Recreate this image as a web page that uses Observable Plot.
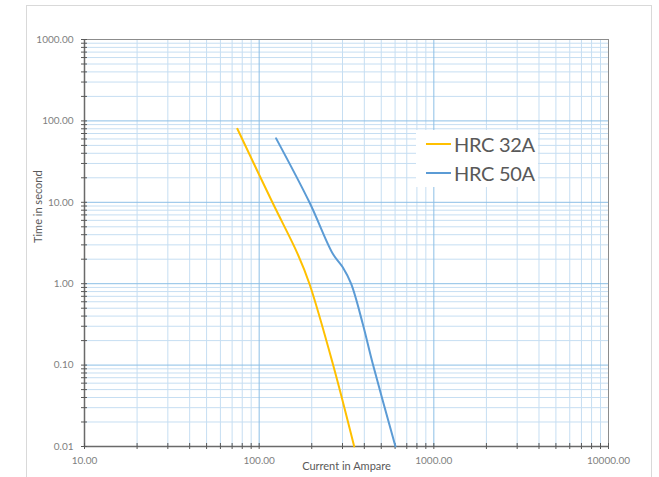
<!DOCTYPE html>
<html>
<head>
<meta charset="utf-8">
<script src="https://cdn.jsdelivr.net/npm/d3@7"></script>
<script src="https://cdn.jsdelivr.net/npm/@observablehq/plot@0.6"></script>
<style>
  html, body { margin: 0; padding: 0; background: #fff; }
  #wrap { position: relative; width: 659px; height: 477px; overflow: hidden; font-family: Lato, "Open Sans", sans-serif; }
  #border { position: absolute; left: 26px; top: 5px; width: 626px; height: 490px; border: 1px solid #d9d9d9; box-sizing: border-box; }
  #chart { position: absolute; left: 0; top: 0; }
  #legend { position: absolute; left: 416px; top: 130px; width: 122px; height: 57px; background: #fff; }
  .item { position: absolute; left: 10px; display: flex; align-items: center; height: 24px; }
  .item .sw { width: 25px; height: 2px; margin-right: 3px; }
  .item span { font-size: 20px; color: #595959; letter-spacing: -0.3px; }
</style>
</head>
<body>
<div id="wrap">
  <div id="border"></div>
  <div id="chart"></div>
  <div id="legend"></div>
</div>
<script>
// ---- data ----
const seriesNames = ["HRC 32A", "HRC 50A"];
const seriesColors = ["#ffc000", "#5b9bd5"];

const hrc32Current = [75, 119, 166, 194, 264, 350];
const hrc32Time    = [80, 10, 2.33, 1.0, 0.104, 0.01];

const hrc50Current = [125, 194, 264, 301, 336, 392, 447, 603];
const hrc50Time    = [61, 10, 2.33, 1.59, 1.0, 0.32, 0.104, 0.01];

const xDecades = [10, 100, 1000, 10000];
const yDecades = [0.01, 0.1, 1, 10, 100, 1000];
const minorMultipliers = [2, 3, 4, 5, 6, 7, 8, 9];
const xTickLabels = ["10.00", "100.00", "1000.00", "10000.00"];
const yTickLabels = ["0.01", "0.10", "1.00", "10.00", "100.00", "1000.00"];

// ---- build ----
const minorOf = decs => decs.slice(0, -1).flatMap(d => minorMultipliers.map(m => +(m * d).toPrecision(6)));
const xMinor = minorOf(xDecades);
const yMinor = minorOf(yDecades);

const rows = [
  ...hrc32Current.map((c, i) => ({series: seriesNames[0], current: c, time: hrc32Time[i]})),
  ...hrc50Current.map((c, i) => ({series: seriesNames[1], current: c, time: hrc50Time[i]}))
];

const xLabel = d => { const i = xDecades.indexOf(d); return i >= 0 ? xTickLabels[i] : ""; };
const yLabel = d => { const i = yDecades.indexOf(d); return i >= 0 ? yTickLabels[i] : ""; };

const minorColor = "#c6def2";
const majorColor = "#8cbfe6";

const chart = Plot.plot({
  width: 659,
  height: 477,
  marginLeft: 84,
  marginRight: 51,
  marginTop: 39,
  marginBottom: 31,
  style: {fontFamily: "Lato, 'Open Sans', sans-serif", background: "transparent"},
  x: {type: "log", domain: [10, 10000]},
  y: {type: "log", domain: [0.01, 1000]},
  color: {domain: seriesNames, range: seriesColors},
  marks: [
    Plot.ruleX(xMinor, {stroke: minorColor, strokeWidth: 1}),
    Plot.ruleY(yMinor, {stroke: minorColor, strokeWidth: 1}),
    Plot.ruleX(xDecades, {stroke: majorColor, strokeWidth: 1}),
    Plot.ruleY(yDecades, {stroke: majorColor, strokeWidth: 1}),
    Plot.frame({stroke: "#8c8c8c"}),
    Plot.ruleX([10], {stroke: "#6a6a6a", strokeWidth: 1.5}),
    Plot.ruleY([0.01], {stroke: "#6a6a6a", strokeWidth: 1.5}),
    Plot.axisY([...yDecades, ...yMinor], {
      tickSize: 6, dx: 3, tickPadding: 8, tickFormat: yLabel,
      stroke: "#595959", color: "#7f7f7f", fontSize: 10, label: null
    }),
    Plot.axisX([...xDecades, ...xMinor], {
      tickSize: 6, dy: -3, tickPadding: 7, tickFormat: xLabel,
      stroke: "#595959", color: "#7f7f7f", fontSize: 10, label: null
    }),
    Plot.text(["Time in second"], {frameAnchor: "left", dx: -46, rotate: -90, fill: "#595959", fontSize: 11}),
    Plot.text(["Current in Ampare"], {frameAnchor: "bottom", dy: 23, fill: "#595959", fontSize: 11}),
    Plot.line(rows, {x: "current", y: "time", z: "series", stroke: "series", strokeWidth: 2, curve: "catmull-rom"})
  ]
});
document.getElementById("chart").appendChild(chart);

// legend
const leg = document.getElementById("legend");
seriesNames.forEach((name, i) => {
  const it = document.createElement("div");
  it.className = "item";
  it.style.top = (2 + i * 29) + "px";
  const sw = document.createElement("div");
  sw.className = "sw";
  sw.style.background = seriesColors[i];
  const tx = document.createElement("span");
  tx.textContent = name;
  it.appendChild(sw); it.appendChild(tx);
  leg.appendChild(it);
});
</script>
</body>
</html>
